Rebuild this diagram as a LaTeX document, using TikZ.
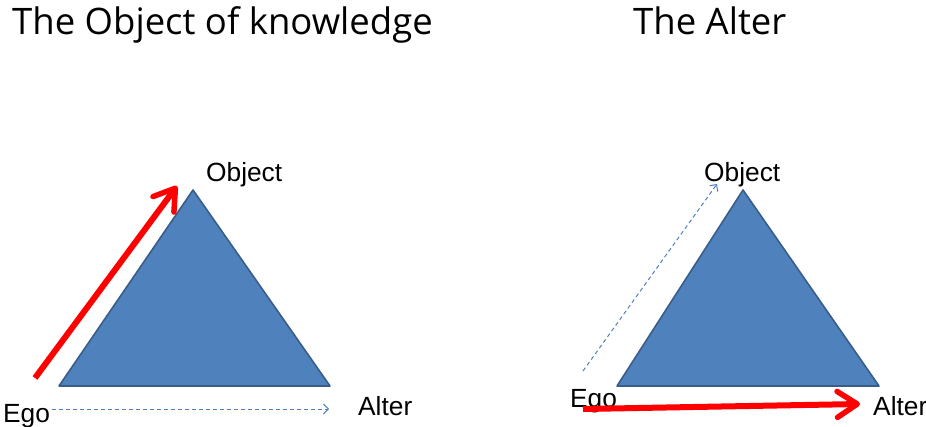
\documentclass[tikz,border=0pt]{standalone}
\usepackage{fontspec}
\setmainfont{Liberation Sans}
\newfontfamily\titlefont{Open Sans}
\usetikzlibrary{arrows.meta}
\definecolor{triFill}{HTML}{4F81BD}
\definecolor{triEdge}{HTML}{385D8A}
\definecolor{linkBlue}{HTML}{4F81BD}
\definecolor{strongRed}{HTML}{FF0000}
\begin{document}
\begin{tikzpicture}[x=1pt,y=-1pt,
  title/.style={font=\titlefont\fontsize{36.5}{40}\selectfont, inner sep=0pt, anchor=base west},
  label/.style={font=\fontsize{26.3}{30}\selectfont, inner sep=0pt, anchor=base west},
  tri/.style={fill=triFill, draw=triEdge, line width=1.6pt, line join=round},
  strong/.style={draw=strongRed, line width=6pt, -{Straight Barb[length=20pt,width=26pt,line width=5.5pt,round]}},
  weak/.style={draw=linkBlue, line width=1pt, dash pattern=on 4pt off 3pt, -{Straight Barb[length=5pt,width=10pt,line width=1pt]}}]
\useasboundingbox (0,0) rectangle (926,427);

% left panel
\node[title] (t1) at (12,35) {The Object of knowledge};
\coordinate (la) at (193,190);
\coordinate (lb) at (59,386);
\coordinate (lc) at (330,386);
\filldraw[tri] (la) -- (lb) -- (lc) -- cycle;
\node[label] (lobj) at (206,182) {Object};
\node[label] (lego) at (3,422) {Ego};
\node[label] (lalt) at (358,415) {Alter};
\coordinate (ls) at (35,378);
\coordinate (lt) at (177,186);
\draw[strong] (ls) -- (lt);
\coordinate (lds) at (52,409);
\coordinate (ldt) at (329,409);
\draw[weak] (lds) -- (ldt);

% right panel
\node[title] (t2) at (633,35) {The Alter};
\coordinate (ra) at (743,190);
\coordinate (rb) at (617,386);
\coordinate (rc) at (879,386);
\filldraw[tri] (ra) -- (rb) -- (rc) -- cycle;
\node[label] (robj) at (704,182) {Object};
\node[label] (rego) at (570,407) {Ego};
\node[label] (ralt) at (873,415) {Alter};
\coordinate (rds) at (583,371);
\coordinate (rdt) at (717,184);
\draw[weak] (rds) -- (rdt);
\coordinate (rs) at (583,409);
\coordinate (rt) at (860,404);
\draw[strong] (rs) -- (rt);
\end{tikzpicture}
\end{document}
